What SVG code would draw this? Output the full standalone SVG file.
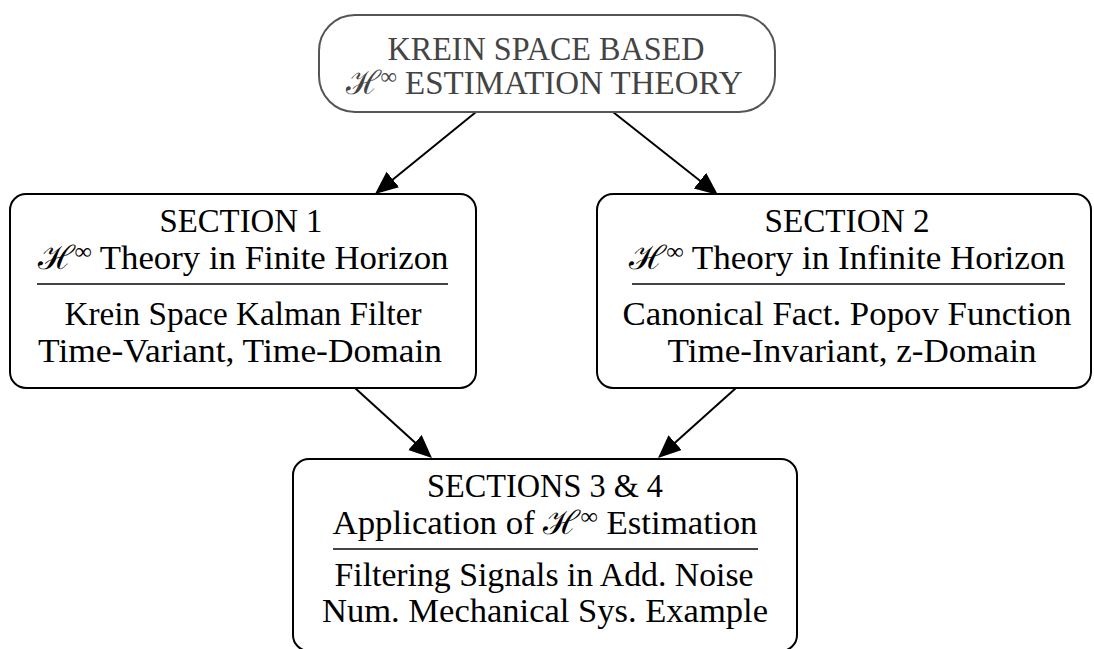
<svg xmlns="http://www.w3.org/2000/svg" width="1094" height="649" viewBox="0 0 1094 649">
<style>
  .box { fill: #ffffff; stroke: #000000; stroke-width: 2; }
  .top { fill: #ffffff; stroke: #555555; stroke-width: 2; }
  .t { font-family: "Liberation Serif", "DejaVu Serif", serif; font-size: 33px; fill: #000000; text-anchor: middle; }
  .tg { fill: #444444; }
  .sup { font-size: 23px; }
  .sep { stroke: #444444; stroke-width: 2; }
  .edge { stroke: #000000; stroke-width: 2; fill: none; marker-end: url(#arr); }
</style>
<defs>
  <marker id="arr" markerUnits="userSpaceOnUse" markerWidth="28" markerHeight="24" refX="19" refY="10" orient="auto">
    <path d="M0,0 L23,10 L0,20 z" fill="#000000"/>
  </marker>
</defs>
<rect width="1094" height="649" fill="#ffffff"/>
<g id="connectors">
  <line class="edge" x1="476" y1="112" x2="378.1" y2="191.5"/>
  <line class="edge" x1="613" y1="112" x2="714.9" y2="192.5"/>
  <line class="edge" x1="355" y1="388" x2="429.0" y2="455.3"/>
  <line class="edge" x1="736" y1="388" x2="661.0" y2="455.3"/>
</g>
<g id="node-top">
  <rect class="top" x="319" y="15" width="456" height="97" rx="36" ry="36"/>
  <text class="t tg" x="546" y="60" textLength="317" lengthAdjust="spacingAndGlyphs">KREIN SPACE BASED</text>
  <text class="t tg" x="544" y="94" textLength="397" lengthAdjust="spacingAndGlyphs">ℋ<tspan class="sup" dy="-10">∞</tspan><tspan dy="10"> ESTIMATION THEORY</tspan></text>
</g>
<g id="node-section1">
  <rect class="box" x="10" y="194" width="466" height="194" rx="16" ry="16"/>
  <text class="t" x="241" y="232" textLength="163" lengthAdjust="spacingAndGlyphs">SECTION 1</text>
  <text class="t" x="243" y="269" textLength="411" lengthAdjust="spacingAndGlyphs">ℋ<tspan class="sup" dy="-10">∞</tspan><tspan dy="10"> Theory in Finite Horizon</tspan></text>
  <line class="sep" x1="37" y1="284" x2="448" y2="284"/>
  <text class="t" x="243" y="325" textLength="357" lengthAdjust="spacingAndGlyphs">Krein Space Kalman Filter</text>
  <text class="t" x="240" y="362" textLength="404" lengthAdjust="spacingAndGlyphs">Time-Variant, Time-Domain</text>
</g>
<g id="node-section2">
  <rect class="box" x="597" y="194" width="494" height="194" rx="16" ry="16"/>
  <text class="t" x="847" y="232" textLength="165" lengthAdjust="spacingAndGlyphs">SECTION 2</text>
  <text class="t" x="847" y="269" textLength="436" lengthAdjust="spacingAndGlyphs">ℋ<tspan class="sup" dy="-10">∞</tspan><tspan dy="10"> Theory in Infinite Horizon</tspan></text>
  <line class="sep" x1="632" y1="284" x2="1065" y2="284"/>
  <text class="t" x="847" y="325" textLength="449" lengthAdjust="spacingAndGlyphs">Canonical Fact. Popov Function</text>
  <text class="t" x="852" y="362" textLength="369" lengthAdjust="spacingAndGlyphs">Time-Invariant, z-Domain</text>
</g>
<g id="node-sections34">
  <rect class="box" x="293" y="459" width="504" height="192" rx="16" ry="16"/>
  <text class="t" x="545" y="497" textLength="236" lengthAdjust="spacingAndGlyphs">SECTIONS 3 &amp; 4</text>
  <text class="t" x="545" y="534" textLength="425" lengthAdjust="spacingAndGlyphs">Application of ℋ<tspan class="sup" dy="-10">∞</tspan><tspan dy="10"> Estimation</tspan></text>
  <line class="sep" x1="333" y1="549" x2="758" y2="549"/>
  <text class="t" x="544" y="586" textLength="419" lengthAdjust="spacingAndGlyphs">Filtering Signals in Add. Noise</text>
  <text class="t" x="545" y="622" textLength="446" lengthAdjust="spacingAndGlyphs">Num. Mechanical Sys. Example</text>
</g>
</svg>
